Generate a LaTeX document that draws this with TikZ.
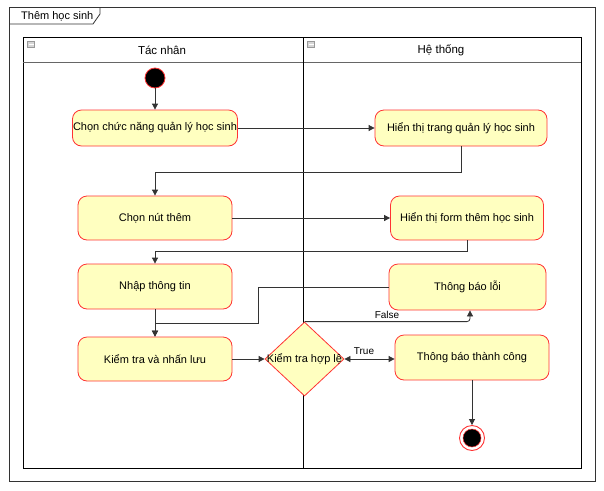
\documentclass[tikz,border=0pt]{standalone}
\usepackage{fontspec}
\setmainfont{Liberation Sans}
\usetikzlibrary{arrows.meta,shapes.geometric}
\definecolor{actfill}{HTML}{FFFFC0}
\definecolor{actline}{HTML}{FF3333}
\definecolor{lineclr}{HTML}{333333}
\definecolor{iconclr}{HTML}{999999}
\tikzset{
  action/.style={draw=actline, fill=actfill, rounded corners=9pt, line width=0.8pt,
    minimum width=#1, minimum height=44pt, inner sep=0pt, align=center,
    font=\fontsize{11}{13}\selectfont},
  action/.default=154pt,
  decision/.style={draw=actline, fill=actfill, diamond, line width=0.8pt,
    minimum width=79pt, minimum height=74pt, inner sep=0pt,
    label={[font=\fontsize{11}{13}\selectfont, inner sep=0pt]center:#1}},
  flow/.style={draw=lineclr, line width=0.8pt, -{Triangle[length=6pt,width=6pt]}},
  guard/.style={font=\fontsize{10}{12}\selectfont, inner sep=1pt},
  lanehead/.style={font=\fontsize{11.5}{13}\selectfont},
  collapse/.style={draw=iconclr, fill=iconclr!40, minimum width=7pt, minimum height=6pt, inner sep=0pt},
}
\begin{document}
\begin{tikzpicture}[x=1pt,y=-1pt]
\useasboundingbox (0,0) rectangle (604,490);
% outer frame with its title tab
\draw[lineclr, line width=0.8pt] (9,7) rectangle (595,481);
\draw[lineclr, line width=0.8pt] (9,24) -- (93,24) -- (100,14) -- (100,7);
\node[anchor=west, font=\fontsize{11}{13}\selectfont, inner sep=0pt] (frametitle) at (21,16) {Thêm học sinh};
% pool with two lanes
\draw[black, line width=0.8pt] (23,37) rectangle (581,468);
\draw[black!60, line width=0.8pt] (23,62) -- (581,62);
\draw[black, line width=0.8pt] (303,37) -- (303,468);
\node[collapse] (iconA) at (31,44) {};
\draw[white, line width=0.6pt] (28.5,44) -- (33.5,44);
\node[collapse] (iconB) at (311,44) {};
\draw[white, line width=0.6pt] (308.5,44) -- (313.5,44);
\node[lanehead] (laneA) at (162,50) {Tác nhân};
\node[lanehead] (laneB) at (441,50) {Hệ thống};
% initial and final states
\node[circle, draw=actline, fill=black, minimum size=20pt, inner sep=0pt, line width=0.8pt] (start) at (155,78) {};
\node[circle, draw=actline, fill=white, minimum size=25pt, inner sep=0pt, line width=0.9pt] (stop) at (472,438) {};
\node[circle, fill=black, draw=actline, line width=0.5pt, minimum size=18pt, inner sep=0pt] (stopdot) at (472,438) {};
% actions
\node[action=165pt, minimum height=36pt] (chon) at (155,128) {Chọn chức năng quản lý học sinh};
\node[action=172pt, minimum height=36pt] (hienql) at (461,128) {Hiển thị trang quản lý học sinh};
\node[action] (nutthem) at (155,218) {Chọn nút thêm};
\node[action=153pt] (hienform) at (467,218) {Hiển thị form thêm học sinh};
\node[action, minimum height=45pt] (nhap) at (155,286.5) {Nhập thông tin};
\node[action=157pt, minimum height=46pt] (loi) at (467.5,287) {Thông báo lỗi};
\node[action] (luu) at (155,359) {Kiểm tra và nhấn lưu};
\node[decision=Kiểm tra hợp lệ] (hople) at (304.5,359) {};
\node[action, minimum height=45pt] (thanhcong) at (472,357.5) {Thông báo thành công};
% control flows
\draw[flow] (start) -- (chon);
\draw[flow] (chon) -- (hienql);
\draw[flow] (hienql.south) -- ++(0,26) -| (nutthem.north);
\draw[flow] (nutthem) -- (hienform);
\draw[flow] (hienform.south) -- ++(0,11) -| (nhap.north);
\draw[flow] (nhap) -- (luu);
\draw[flow] (loi.west) -- (258,287) -- (258,323) -- (155,323) -- (luu.north);
\draw[flow] (luu) -- (hople);
\coordinate (falsecol) at (470,0);
\draw[flow, rounded corners=3pt] (hople.north) -- (hople.north -| falsecol) -- (falsecol |- loi.south);
\node[guard] (falselbl) at (387,315) {False};
\draw[flow, {Triangle[length=6pt,width=6pt]}-{Triangle[length=6pt,width=6pt]}] (hople.east) -- (hople.east -| thanhcong.west);
\node[guard] (truelbl) at (364,351) {True};
\draw[flow] (thanhcong) -- (stop);
\end{tikzpicture}
\end{document}
